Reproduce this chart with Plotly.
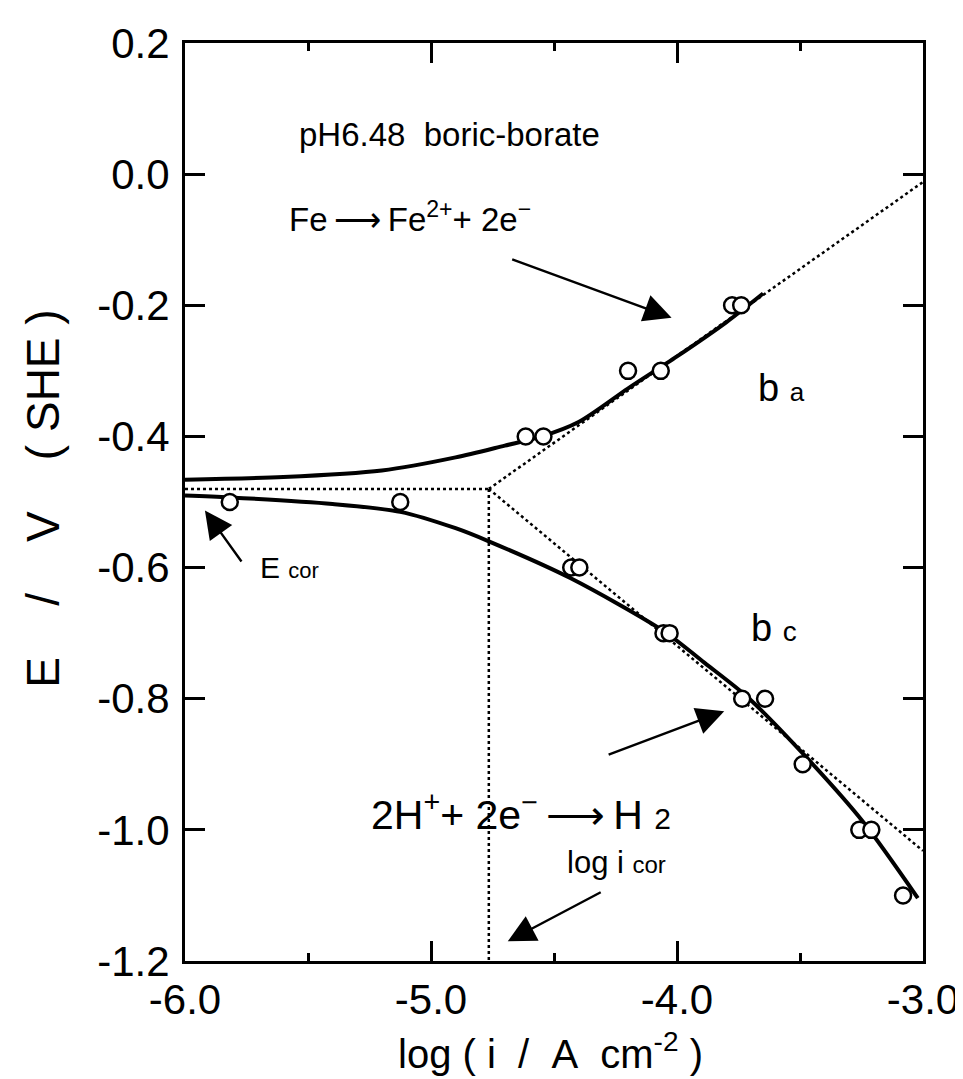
import plotly.graph_objects as go

# ---- data ----
anodic_pts_x = [-4.615, -4.543, -4.199, -4.066, -3.776, -3.739]
anodic_pts_y = [-0.40, -0.40, -0.30, -0.30, -0.20, -0.20]

cathodic_pts_x = [-5.818, -5.125, -4.430, -4.397, -4.055, -4.030,
                  -3.735, -3.642, -3.489, -3.259, -3.210, -3.081]
cathodic_pts_y = [-0.50, -0.50, -0.60, -0.60, -0.70, -0.70,
                  -0.80, -0.80, -0.90, -1.00, -1.00, -1.10]

anodic_curve_x = [-6.0, -5.6, -5.2, -4.9, -4.7, -4.55, -4.4, -4.2, -4.0, -3.8, -3.65]
anodic_curve_y = [-0.466, -0.462, -0.452, -0.432, -0.414, -0.400, -0.378, -0.327, -0.278, -0.226, -0.182]

cathodic_curve_x = [-6.0, -5.818, -5.4, -5.125, -4.9, -4.765, -4.434, -4.050,
                    -3.889, -3.715, -3.485, -3.243, -3.021]
cathodic_curve_y = [-0.490, -0.493, -0.503, -0.515, -0.540, -0.560, -0.616, -0.698,
                    -0.745, -0.797, -0.885, -0.988, -1.104]

tafel_a_x = [-4.765, -3.0]
tafel_a_y = [-0.48, -0.012]
tafel_c_x = [-4.765, -3.0]
tafel_c_y = [-0.48, -1.032]
ecor_x = [-6.0, -4.765]
ecor_y = [-0.48, -0.48]
icor_x = [-4.765, -4.765]
icor_y = [-0.48, -1.2]

x_ticks = [-6.0, -5.0, -4.0, -3.0]
x_labels = ["-6.0", "-5.0", "-4.0", "-3.0"]
y_ticks = [0.2, 0.0, -0.2, -0.4, -0.6, -0.8, -1.0, -1.2]
y_labels = ["0.2", "0.0", "-0.2", "-0.4", "-0.6", "-0.8", "-1.0", "-1.2"]

FONT = "Liberation Sans, Arial, Helvetica, sans-serif"
NB = "\u00a0"
TH = "\u2009"

fig = go.Figure()

dot = dict(color="black", width=2.5, dash="dot")
for xs, ys in [(tafel_a_x, tafel_a_y), (tafel_c_x, tafel_c_y), (ecor_x, ecor_y), (icor_x, icor_y)]:
    fig.add_trace(go.Scatter(x=xs, y=ys, mode="lines", line=dot, showlegend=False, hoverinfo="skip"))

solid = dict(color="black", width=4, shape="spline", smoothing=0.8)
fig.add_trace(go.Scatter(x=anodic_curve_x, y=anodic_curve_y, mode="lines", line=solid, showlegend=False))
fig.add_trace(go.Scatter(x=cathodic_curve_x, y=cathodic_curve_y, mode="lines", line=solid, showlegend=False))

mk = dict(symbol="circle", size=16, color="white", line=dict(color="black", width=2.5))
fig.add_trace(go.Scatter(x=anodic_pts_x, y=anodic_pts_y, mode="markers", marker=mk, showlegend=False))
fig.add_trace(go.Scatter(x=cathodic_pts_x, y=cathodic_pts_y, mode="markers", marker=mk, showlegend=False))

def txt(x, y, s, size, ref="data", angle=0, xanchor="left"):
    xr, yr = ("x", "y") if ref == "data" else ("paper", "paper")
    fig.add_annotation(x=x, y=y, xref=xr, yref=yr, text=s, showarrow=False, textangle=angle,
                       xanchor=xanchor, yanchor="middle",
                       font=dict(family=FONT, size=size, color="black"))

txt(-5.544, 0.060, "pH6.48" + NB + NB + "boric-borate", 33)
txt(-5.584, -0.066, "Fe" + TH + "⟶" + TH + "Fe<sup>2+</sup>+" + NB + "2e<sup>−</sup>", 33)
txt(-3.679, -0.326, "b" + NB + "<span style='font-size:26px'>a</span>", 38)
txt(-3.707, -0.692, "b" + NB + "<span style='font-size:28px'>c</span>", 38)
txt(-5.705, -0.600, "E" + NB + "<span style='font-size:22px'>cor</span>", 30)
txt(-5.253, -0.972, "2H<sup>+</sup>+" + NB + "2e<sup>−</sup>" + TH + "⟶" + TH + "H" + NB + "<span style='font-size:30px'>2</span>", 41)
txt(-4.454, -1.050, "log" + NB + "i" + NB + "<span style='font-size:24px'>cor</span>", 31)

def arrow(x0, y0, x1, y1):
    fig.add_annotation(x=x1, y=y1, ax=x0, ay=y0, xref="x", yref="y", axref="x", ayref="y",
                       text="", showarrow=True, arrowhead=2, arrowsize=2.3, arrowwidth=2.4,
                       arrowcolor="black")

arrow(-4.676, -0.129, -4.022, -0.219)
arrow(-5.766, -0.593, -5.919, -0.513)
arrow(-4.284, -0.886, -3.808, -0.819)
arrow(-4.304, -1.094, -4.688, -1.170)

# axis titles placed as annotations for precise position
txt(0.495, -0.0985, "log" + NB + "(" + NB + "i" + NB + NB + "/" + NB + NB + "A" + NB + NB + "cm<sup>-2</sup>" + NB + ")",
    40, ref="paper", xanchor="center")
txt(-0.192, 0.504, "E" + NB * 4 + "/" + NB * 4 + "V" + NB * 4 + "(" + NB + "SHE" + NB + ")",
    46, ref="paper", angle=-90, xanchor="center")

axis_common = dict(showgrid=False, zeroline=False, showline=True, linecolor="black", linewidth=3,
                   mirror="ticks", ticks="inside", tickcolor="black", tickwidth=3, ticklen=20,
                   tickfont=dict(family=FONT, size=42, color="black"))

fig.update_xaxes(range=[-6.0, -3.0], tickmode="array", tickvals=x_ticks, ticktext=x_labels,
                 minor=dict(dtick=0.5, tick0=-6.0, ticks="inside", ticklen=8, tickwidth=3, tickcolor="black"),
                 **axis_common)
fig.update_yaxes(range=[-1.2, 0.2], tickmode="array", tickvals=y_ticks, ticktext=y_labels,
                 ticklabelstandoff=4, **axis_common)

fig.update_layout(width=963, height=1079, margin=dict(l=177, r=43, t=30, b=126),
                  plot_bgcolor="white", paper_bgcolor="white",
                  font=dict(family=FONT, color="black"))

fig.write_html("out.html")
